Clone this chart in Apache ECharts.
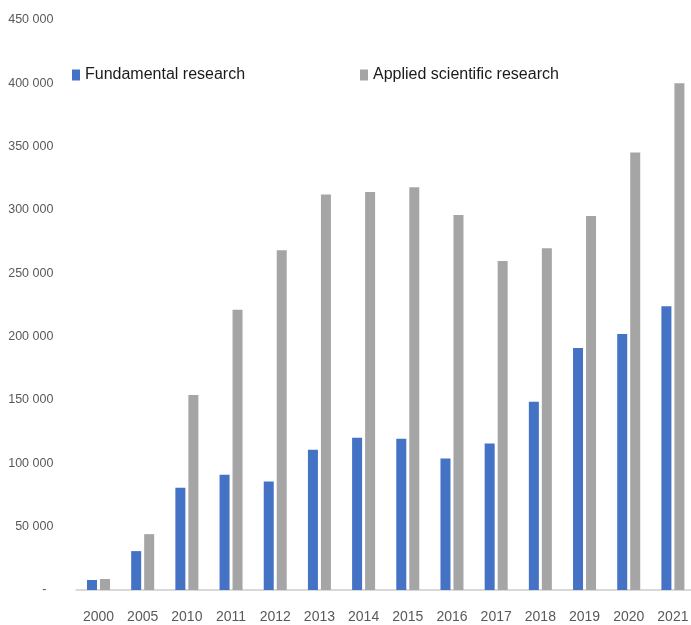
<!DOCTYPE html>
<html>
<head>
<meta charset="utf-8">
<script src="https://cdn.jsdelivr.net/npm/echarts@6/dist/echarts.min.js"></script>
<style>
  html, body { margin: 0; padding: 0; background: #ffffff; }
  #chart { width: 691px; height: 625px; }
</style>
</head>
<body>
<div id="chart"></div>
<script>
// Years shown on the category axis
var years = ['2000', '2005', '2010', '2011', '2012', '2013', '2014', '2015',
             '2016', '2017', '2018', '2019', '2020', '2021'];

// Spending by type of research
var fundamental = [7900, 30700, 80800, 91000, 85600, 110800, 120200, 119400,
                   103900, 115700, 148600, 191000, 202100, 224100];
var applied = [8700, 44100, 154000, 221200, 268200, 312200, 314300, 318000,
               296000, 259800, 269800, 295200, 345300, 400000];

var seriesNames = ['Fundamental research', 'Applied scientific research'];
var seriesColors = ['#4472C4', '#A5A5A5'];

var FONT = '"Liberation Sans", Arial, sans-serif';

// Thousands separated by a space; zero shown as a dash
function formatValue(v) {
  if (v === 0) return '-  ';
  return String(v).replace(/\B(?=(\d{3})+(?!\d))/g, ' ');
}

var chart = echarts.init(document.getElementById('chart'), null, { renderer: 'canvas' });

var legendText = { fontFamily: FONT, fontSize: 16, color: '#1a1a1a' };

chart.setOption({
  animation: false,
  backgroundColor: '#ffffff',
  grid: {
    left: 76.4, right: -4, top: 20, bottom: 35,
    containLabel: false, outerBoundsMode: 'none'
  },
  legend: [
    {
      data: [seriesNames[0]], left: 72, top: 67,
      icon: 'rect', itemWidth: 8, itemHeight: 11, itemGap: 0,
      textStyle: legendText, padding: 0
    },
    {
      data: [seriesNames[1]], left: 360, top: 67,
      icon: 'rect', itemWidth: 8, itemHeight: 11, itemGap: 0,
      textStyle: legendText, padding: 0
    }
  ],
  xAxis: {
    type: 'category',
    data: years,
    axisLine: { show: true, lineStyle: { color: '#d9d9d9', width: 2 } },
    axisTick: { show: false },
    axisLabel: {
      interval: 0, color: '#595959', fontFamily: FONT, fontSize: 14, margin: 20
    },
    splitLine: { show: false }
  },
  yAxis: {
    type: 'value',
    min: 0, max: 450000, interval: 50000,
    axisLine: { show: false },
    axisTick: { show: false },
    splitLine: { show: false },
    axisLabel: {
      color: '#595959', fontFamily: FONT, fontSize: 12.5, margin: 23,
      formatter: formatValue
    }
  },
  series: [
    {
      name: seriesNames[0], type: 'bar', data: fundamental,
      barWidth: 10, barGap: '30%',
      itemStyle: { color: seriesColors[0] }
    },
    {
      name: seriesNames[1], type: 'bar', data: applied,
      barWidth: 10, barGap: '30%',
      itemStyle: { color: seriesColors[1] }
    }
  ]
});
</script>
</body>
</html>
